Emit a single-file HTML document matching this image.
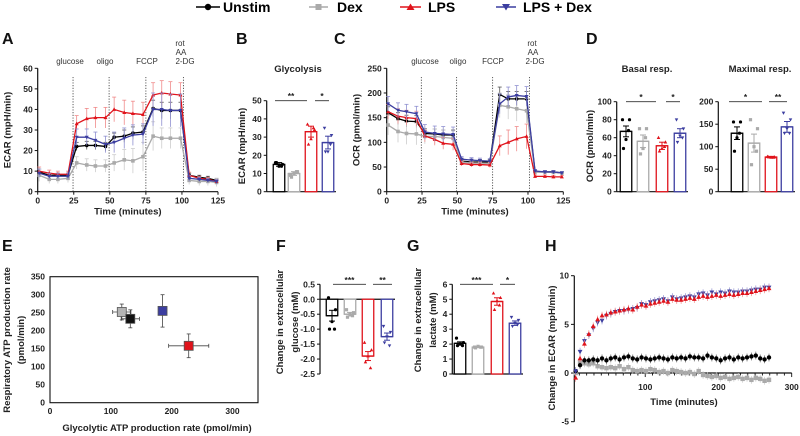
<!DOCTYPE html>
<html><head><meta charset="utf-8"><style>
body{margin:0;background:#fff}
svg{display:block;font-family:"Liberation Sans",Arial,sans-serif}
.t{font-size:8.5px;font-weight:bold;fill:#222}
.at{font-size:9.5px;font-weight:bold;fill:#222}
.pl{font-size:16px;font-weight:bold;fill:#111}
.ann{font-size:8px;fill:#333}
</style></head><body>
<svg id="fig" width="800" height="436" viewBox="0 0 800 436">
<g id="legend">
 <g><line x1="196" y1="7" x2="220" y2="7" stroke="#000" stroke-width="1.5"/><circle cx="208" cy="7" r="3.2" fill="#000"/><text x="223" y="12" font-size="14" font-weight="bold">Unstim</text></g>
 <g><line x1="309" y1="7" x2="328" y2="7" stroke="#aaa" stroke-width="1.5"/><rect x="315.5" y="4" width="6" height="6" fill="#aaa"/><text x="337" y="12" font-size="14" font-weight="bold">Dex</text></g>
 <g><line x1="400" y1="7" x2="421" y2="7" stroke="#e0131b" stroke-width="1.5"/><path d="M410.5,3.5 L414.5,10 L406.5,10Z" fill="#e0131b"/><text x="428" y="12" font-size="14" font-weight="bold">LPS</text></g>
 <g><line x1="496" y1="7" x2="516" y2="7" stroke="#3c3ea0" stroke-width="1.5"/><path d="M502,4 L510,4 L506,10.5Z" fill="#3c3ea0"/><text x="523" y="12" font-size="14" font-weight="bold">LPS + Dex</text></g>
</g>
<text class="pl" x="2" y="44">A</text>
<text class="pl" x="236" y="44">B</text>
<text class="pl" x="334" y="44">C</text>
<text class="pl" x="586" y="44">D</text>
<text class="pl" x="2" y="251">E</text>
<text class="pl" x="276" y="251">F</text>
<text class="pl" x="407" y="251">G</text>
<text class="pl" x="545" y="251">H</text>
</svg>
<script>
// ---------- data ----------
const seahorseTimes=[1,8,14,21,27,34,40,47,53,60,66,73,80,86,92,99,105,112,118,124];
const ecarUnstim=[9.5,8,8,8,22,22.5,22.5,22,26.5,27,28.5,29,40.5,39.5,39.5,39.5,8,7,6.5,5.5];
const ecarDex=[8,6,6,6.5,14,13,12.5,12.5,14,15.5,15,17,27,26,26,26,5.5,5,5,4.5];
const ecarLps=[10,9,8.5,8.5,33,35.5,36,36,40,38.5,38,37.5,47,48,47.5,47,8,6.5,6,5];
const ecarLpsDex=[9,7.5,7.5,7.5,26.5,26.5,25,23,24,26,27.5,28,40,40,39.5,39.5,6.5,6,5.5,5];
const ecarErrUnstim=[1.5,1,1,1,2,2,2,2,2,3,3,3,4,4,4,4,1,1,1,1];
const ecarErrDex=[3,2,2,2,3,3,3,3,4,5,6,7,7,5,5,5,2,2,2,2];
const ecarErrLps=[2,1.5,1.5,1.5,4,5,5,5,6,6,6,6,6,6,6,6,1.5,1,1,1];
const ecarErrLpsDex=[2,1.5,1.5,1.5,4,4,4,4,5,5,5,5,8,8,8,8,1.5,1,1,1];
const ocrUnstim=[160,148,143,142,118,117,115,115,62,60,60,60,197,188,188,188,40,40,40,38];
const ocrDex=[135,122,118,117,112,112,110,108,60,58,58,57,175,172,168,164,40,40,39,38];
const ocrLps=[162,153,150,148,113,106,98,96,57,55,55,54,93,100,107,112,31,31,30,30];
const ocrLpsDex=[178,165,162,158,121,118,117,116,66,64,63,62,178,192,195,193,42,40,40,38];
const ocrErrUnstim=[12,12,12,12,10,10,10,10,5,5,5,5,15,15,15,15,3,3,3,3];
const ocrErrDex=[20,22,22,22,15,15,15,15,5,5,5,5,25,25,25,25,3,3,3,3];
const ocrErrLps=[15,15,15,15,12,12,12,12,5,5,5,5,20,25,25,25,3,3,3,3];
const ocrErrLpsDex=[15,15,15,15,15,15,15,15,5,5,5,5,20,20,20,20,3,3,3,3];
const injectionTimes=[24.5,49.5,75,101];
const groups=["Unstim","Dex","LPS","LPS + Dex"];
const glycolysisMeans=[15,10,33,27];
const glycolysisSem=[1,1,3,3.5];
const glycolysisDots=[[16,15,14,16,14],[9,11,10,8,11],[37,34,29,26,35],[35,31,22,22,26]];
const basalMeans=[67,56,51,65];
const basalSem=[6,7,4,5];
const basalDots=[[80,80,58,48,68],[70,70,48,42,60],[60,55,48,45,50],[80,70,62,55,60]];
const maximalMeans=[130,108,77,144];
const maximalSem=[14,20,1.5,12];
const maximalDots=[[155,155,120,90,130],[160,140,100,60,90],[78,77,76,77,76],[175,160,140,130,130]];
const glycoATP=[132,118,228,185];
const glycoATPErr=[15,15,33,6];
const respATP=[233,252,158,255];
const respATPErr=[25,22,33,45];
const glucoseMeans=[-0.55,-0.5,-1.9,-1.25];
const glucoseSem=[0.18,0.06,0.15,0.12];
const glucoseDots=[[0.05,-0.35,-0.75,-1.0,-1.0],[-0.35,-0.45,-0.5,-0.6,-0.55],[-1.45,-1.7,-1.9,-2.1,-2.3],[-0.9,-1.1,-1.25,-1.45,-1.55]];
const lactateMeans=[2.05,1.8,4.85,3.4];
const lactateSem=[0.1,0.04,0.25,0.15];
const lactateDots=[[2.4,2.1,2.0,1.9,1.9],[1.8,1.8,1.85,1.75,1.8],[5.4,5.1,4.9,4.3,4.6],[3.8,3.6,3.4,3.2,3.3]];
const hTimes=[5,11,17,23,29,35,41,47,53,59,65,71,77,83,89,95,101,107,113,119,125,131,137,143,149,155,161,167,173,179,185,191,197,203,209,215,221,227,233,239,245,251,257,263,269];
const hLps=[-0.5,1.5,3.0,4.0,4.8,5.5,5.9,6.0,6.2,6.3,6.4,6.5,6.6,6.5,6.8,7.0,6.9,7.1,7.2,7.3,7.4,7.3,7.6,7.5,7.5,7.6,7.7,7.6,7.8,7.9,7.8,7.9,8.0,7.9,8.0,8.1,8.0,8.1,8.2,8.2,8.3,8.4,8.5,8.6,8.7];
const hLpsDex=[0.2,2.2,3.3,3.9,4.6,5.2,5.4,5.9,6.1,6.3,6.4,6.4,6.5,6.6,6.7,7.1,7.0,7.3,7.4,7.5,7.6,7.4,7.8,7.6,7.7,7.8,7.9,7.8,8.1,8.2,8.0,8.3,8.1,8.3,8.2,8.4,8.3,8.3,8.4,8.4,8.5,8.6,8.6,8.8,8.8];
const hUnstim=[0.2,0.8,1.3,1.3,1.4,1.3,1.5,1.3,1.5,1.6,1.4,1.6,1.7,1.5,1.4,1.6,1.5,1.4,1.5,1.6,1.5,1.4,1.6,1.5,1.6,1.5,1.7,1.6,1.6,1.5,1.8,1.6,1.5,1.3,1.5,1.6,1.4,1.6,1.5,1.6,1.7,1.8,1.5,1.4,1.6];
const hDex=[0.0,1.1,1.0,0.9,1.0,0.7,0.6,0.5,0.6,0.5,0.7,0.4,0.6,0.3,0.2,0.3,0.2,0.4,0.3,0.1,0.2,0.0,0.3,0.2,0.1,0.0,0.1,-0.1,0.2,-0.2,-0.3,-0.4,-0.3,-0.5,-0.4,-0.6,-0.5,-0.4,-0.6,-0.5,-0.7,-0.5,-0.6,-0.8,-0.7];
const aXTicks=[0,25,50,75,100,125];
const aYTicks=[0,10,20,30,40,50,60];
const cYTicks=[0,50,100,150,200,250];
const bYTicks=[0,10,20,30,40,50];
const basalTicks=[0,20,40,60,80,100];
const maximalTicks=[0,50,100,150,200];
const eTicks=[0,50,100,150,200,250,300,350];
const eXTicks=[0,100,200,300];
const fTicks=[0.5,0,-0.5,-1,-1.5,-2,-2.5];
const fTickLabels=["0.5","0.0","-0.5","-1.0","-1.5","-2.0","-2.5"];
const gTicks=[0,1,2,3,4,5,6];
const hYTicks=[-5,0,5,10];
const hXTicks=[100,200,300];

// ---------- helpers ----------
const NS="http://www.w3.org/2000/svg";
const svg=document.getElementById('fig');
const COLORS=["#000","#aaa","#e0131b","#3c3ea0"];
const ERRC=["#555","#ccc","#f08a8a","#8f90d0"];
function el(tag,attrs,parent){const e=document.createElementNS(NS,tag);for(const k in attrs)e.setAttribute(k,attrs[k]);(parent||svg).appendChild(e);return e;}
function lin(d0,d1,r0,r1){return v=>r0+(v-d0)*(r1-r0)/(d1-d0);}
function txt(x,y,s,cls,parent,anchor,rot){const t=el('text',{x:x,y:y,class:cls,'text-anchor':anchor||'middle'},parent);if(rot)t.setAttribute('transform','rotate(-90 '+x+' '+y+')');t.textContent=s;return t;}
function marker(i,x,y,r,parent){
 let m;
 if(i===0)m=el('circle',{cx:x,cy:y,r:r,fill:COLORS[0]},parent);
 else if(i===1)m=el('rect',{x:x-r,y:y-r,width:2*r,height:2*r,fill:COLORS[1]},parent);
 else if(i===2)m=el('path',{d:`M${x},${y-r*1.2} L${x+r*1.1},${y+r*0.8} L${x-r*1.1},${y+r*0.8}Z`,fill:COLORS[2]},parent);
 else m=el('path',{d:`M${x-r*1.1},${y-r*0.8} L${x+r*1.1},${y-r*0.8} L${x},${y+r*1.2}Z`,fill:COLORS[3]},parent);
 return m;
}
function yAxis(g,x,sy,ticks,labels,y0,y1){
 el('line',{x1:x,y1:sy(y0),x2:x,y2:sy(y1),stroke:'#111','stroke-width':1.2},g);
 ticks.forEach((v,k)=>{el('line',{x1:x-3,y1:sy(v),x2:x,y2:sy(v),stroke:'#111'},g);txt(x-5,sy(v)+3,labels?labels[k]:String(v),'t',g,'end');});
}

// ---------- panels A & C ----------
function timeSeries(name,x0,x1,sy,yTicks,yMax,series,errs,title,ann){
 const g=el('g',{}, svg);
 
 
 const sx=lin(0,125,x0,x1);
 yAxis(g,x0,sy,yTicks,null,0,yMax);
 el('line',{x1:x0,y1:sy(0),x2:x1,y2:sy(0),stroke:'#111','stroke-width':1.2},g);
 aXTicks.forEach(v=>{el('line',{x1:sx(v),y1:sy(0),x2:sx(v),y2:sy(0)+3,stroke:'#111'},g);txt(sx(v),sy(0)+12,String(v),'t',g);});
 txt((x0+x1)/2,sy(0)+23,'Time (minutes)','at',g);
 txt(x0-27,(sy(0)+sy(yMax))/2,title,'at',g,'middle',true);
 injectionTimes.forEach(t=>el('line',{x1:sx(t),y1:sy(yMax*0.93),x2:sx(t),y2:sy(0),stroke:'#333','stroke-dasharray':'1.2,1.5','stroke-width':0.8},g));
 ann.forEach(a=>{txt(a[0],a[1],a[2],'ann',g);});
 series.forEach((ys,i)=>{
  const sg=el('g',{},g);
  
  
  ys.forEach((v,k)=>{const x=sx(seahorseTimes[k]);const e=errs[i][k];
   el('line',{x1:x,y1:sy(v-e),x2:x,y2:sy(v+e),stroke:ERRC[i],'stroke-width':0.8},sg);
   el('line',{x1:x-2,y1:sy(v+e),x2:x+2,y2:sy(v+e),stroke:ERRC[i],'stroke-width':0.8},sg);});
  el('polyline',{points:ys.map((v,k)=>sx(seahorseTimes[k])+','+sy(v)).join(' '),fill:'none',stroke:COLORS[i],'stroke-width':1.3},sg);
  ys.forEach((v,k)=>marker(i,sx(seahorseTimes[k]),sy(v),1.8,sg));
 });
}
timeSeries('ecar-timecourse-chart',37.7,218,lin(0,60,191.7,68.3),aYTicks,60,[ecarUnstim,ecarDex,ecarLps,ecarLpsDex],[ecarErrUnstim,ecarErrDex,ecarErrLps,ecarErrLpsDex],'ECAR (mpH/min)',
 [[70,64,'glucose'],[105,64,'oligo'],[147,64,'FCCP'],[180,46,'rot'],[181,55,'AA'],[185,64,'2-DG']]);
timeSeries('ocr-timecourse-chart',386.7,563.3,lin(0,250,191.7,68.3),cYTicks,250,[ocrUnstim,ocrDex,ocrLps,ocrLpsDex],[ocrErrUnstim,ocrErrDex,ocrErrLps,ocrErrLpsDex],'OCR (pmol/min)',
 [[425,64,'glucose'],[458,64,'oligo'],[493,64,'FCCP'],[532,46,'rot'],[533,55,'AA'],[535,64,'2-DG']]);

// ---------- bar charts ----------
function barChart(name,axisX,centers,sy,ticks,labels,yLo,yHi,means,sem,dots,title,titleX,sig,ylab){
 const g=el('g',{},svg);
 
 
 yAxis(g,axisX,sy,ticks,labels,yLo,yHi);
 const base=sy(Math.max(0,yLo));
 const axisRight=centers[3]+8;
 el('line',{x1:axisX,y1:base,x2:axisRight,y2:base,stroke:'#111','stroke-width':1.2},g);
 if(title)txt(titleX,72,title,'at',g);
 if(ylab)ylab.forEach(l=>txt(l[0],l[1],l[2],'at',g,'middle',true));
 means.forEach((m,i)=>{
  const bg=el('g',{},g);
  
  
  const c=centers[i],w=11.5;
  el('rect',{x:c-w/2,y:Math.min(sy(m),base),width:w,height:Math.abs(base-sy(m)),fill:'#fff',stroke:COLORS[i],'stroke-width':1.3},bg);
  const s=sem[i];
  el('line',{x1:c,y1:sy(m-s),x2:c,y2:sy(m+s),stroke:COLORS[i],'stroke-width':1},bg);
  el('line',{x1:c-3,y1:sy(m+s),x2:c+3,y2:sy(m+s),stroke:COLORS[i],'stroke-width':1},bg);
  el('line',{x1:c-3,y1:sy(m-s),x2:c+3,y2:sy(m-s),stroke:COLORS[i],'stroke-width':1},bg);
  el('line',{x1:c-w/2,y1:sy(m),x2:c+w/2,y2:sy(m),stroke:COLORS[i],'stroke-width':1.3},bg);
  const off=[-3.5,3.5,0,-2.5,2.5];
  dots[i].forEach((v,k)=>marker(i,c+off[k],sy(v),1.6,bg));
 });
 sig.forEach(s=>{el('line',{x1:s[0],y1:s[2],x2:s[1],y2:s[2],stroke:'#333','stroke-width':0.9},g);txt((s[0]+s[1])/2,s[2]-1.5,s[3],'t',g);});
}
const syB=lin(0,50,191.7,100.7);
barChart('glycolysis-bar-chart',266.7,[279,294,311,328],syB,bYTicks,null,0,50,glycolysisMeans,glycolysisSem,glycolysisDots,'Glycolysis',298,
 [[275,307,100.7,'**'],[315,329,100.7,'*']],[[245,146,'ECAR (mpH/min)']]);
const syD1=lin(0,100,191.7,101.7);
barChart('basal-resp-bar-chart',616.7,[626,643,662,680],syD1,basalTicks,null,0,100,basalMeans,basalSem,basalDots,'Basal resp.',647,
 [[626,656,101.7,'*'],[666,680,101.7,'*']],[[593,146,'OCR (pmol/min)']]);
const syD2=lin(0,200,191.7,101.7);
barChart('maximal-resp-bar-chart',718.3,[737,754,771,787],syD2,maximalTicks,null,0,200,maximalMeans,maximalSem,maximalDots,'Maximal resp.',760,
 [[729,762,101.7,'*'],[769,787,101.7,'**']],null);
const syF=lin(0.5,-2.5,284.3,374);
barChart('glucose-bar-chart',320,[332,350,368,387],syF,fTicks,fTickLabels,-2.5,0.5,glucoseMeans,glucoseSem,glucoseDots,null,0,
 [[333,366,284.3,'***'],[373,392,284.3,'**']],[[283,322,'Change in extracellular'],[298,322,'glucose (mM)']]);
const syG=lin(0,6,374,284.3);
barChart('lactate-bar-chart',452.3,[460,478,497,515],syG,gTicks,null,0,6,lactateMeans,lactateSem,lactateDots,null,0,
 [[460,493,284.3,'***'],[500,515,284.3,'*']],[[421,320,'Change in extracellular'],[436,320,'lactate (mM)']]);

// ---------- panel E ----------
(function(){
 const g=el('g',{},svg);
 
 
 const sx=lin(0,300,50,232.5), sy=lin(0,350,402.7,276.7);
 el('rect',{x:50,y:276.7,width:208,height:126,fill:'none',stroke:'#111','stroke-width':1.1},g);
 eTicks.forEach(v=>txt(45,sy(v)+3,String(v),'t',g,'end'));
 eXTicks.forEach(v=>txt(sx(v),414,String(v),'t',g));
 txt(157,431,'Glycolytic ATP production rate (pmol/min)','at',g);
 txt(10,340,'Respiratory ATP production rate','at',g,'middle',true);
 txt(24,340,'(pmol/min)','at',g,'middle',true);
 [1,0,3,2].forEach(i=>{
  const pg=el('g',{},g);
  
  
  const x=sx(glycoATP[i]),y=sy(respATP[i]),ex=glycoATPErr[i],ey=respATPErr[i];
  el('line',{x1:sx(glycoATP[i]-ex),y1:y,x2:sx(glycoATP[i]+ex),y2:y,stroke:'#444','stroke-width':0.8},pg);
  el('line',{x1:x,y1:sy(respATP[i]-ey),x2:x,y2:sy(respATP[i]+ey),stroke:'#444','stroke-width':0.8},pg);
  [sx(glycoATP[i]-ex),sx(glycoATP[i]+ex)].forEach(px=>el('line',{x1:px,y1:y-2,x2:px,y2:y+2,stroke:'#444','stroke-width':0.8},pg));
  [sy(respATP[i]-ey),sy(respATP[i]+ey)].forEach(yy=>el('line',{x1:x-2,y1:yy,x2:x+2,y2:yy,stroke:'#444','stroke-width':0.8},pg));
  const fills=['#111','#b4b4b4','#e0131b','#3c3ea0'];
  el('rect',{x:x-4.5,y:y-4.5,width:9,height:9,fill:fills[i],stroke:'#555','stroke-width':0.8},pg);
 });
})();

// ---------- panel H ----------
(function(){
 const g=el('g',{},svg);
 
 
 const sx=lin(0,300,572,791.7), sy=lin(-5,10,421.7,275.7);
 el('line',{x1:574.3,y1:sy(-5),x2:574.3,y2:sy(10),stroke:'#111','stroke-width':1.2},g);
 hYTicks.forEach(v=>{el('line',{x1:571,y1:sy(v),x2:574.3,y2:sy(v),stroke:'#111'},g);txt(569,sy(v)+3,String(v),'t',g,'end');});
 el('line',{x1:574.3,y1:sy(0),x2:sx(300),y2:sy(0),stroke:'#111','stroke-width':1.2},g);
 for(let t=10;t<=300;t+=10){el('line',{x1:sx(t),y1:sy(0),x2:sx(t),y2:sy(0)+(t%100===0?4:2.5),stroke:'#111','stroke-width':0.9},g);}
 hXTicks.forEach(v=>txt(sx(v),sy(0)+17,String(v),'t',g));
 txt(684,405,'Time (minutes)','at',g);
 txt(555,348,'Change in ECAR (mpH/min)','at',g,'middle',true);
 [[hDex,1],[hUnstim,0],[hLpsDex,3],[hLps,2]].forEach(([ys,i])=>{
  const sg=el('g',{},g);
  
  
  ys.forEach((v,k)=>{const x=sx(hTimes[k]),y=sy(v);
   el('line',{x1:x,y1:sy(v-0.4),x2:x,y2:sy(v+0.4),stroke:ERRC[i],'stroke-width':0.7},sg);
   marker(i,x,y,2.2,sg);});
 });
})();
</script>
</body></html>
